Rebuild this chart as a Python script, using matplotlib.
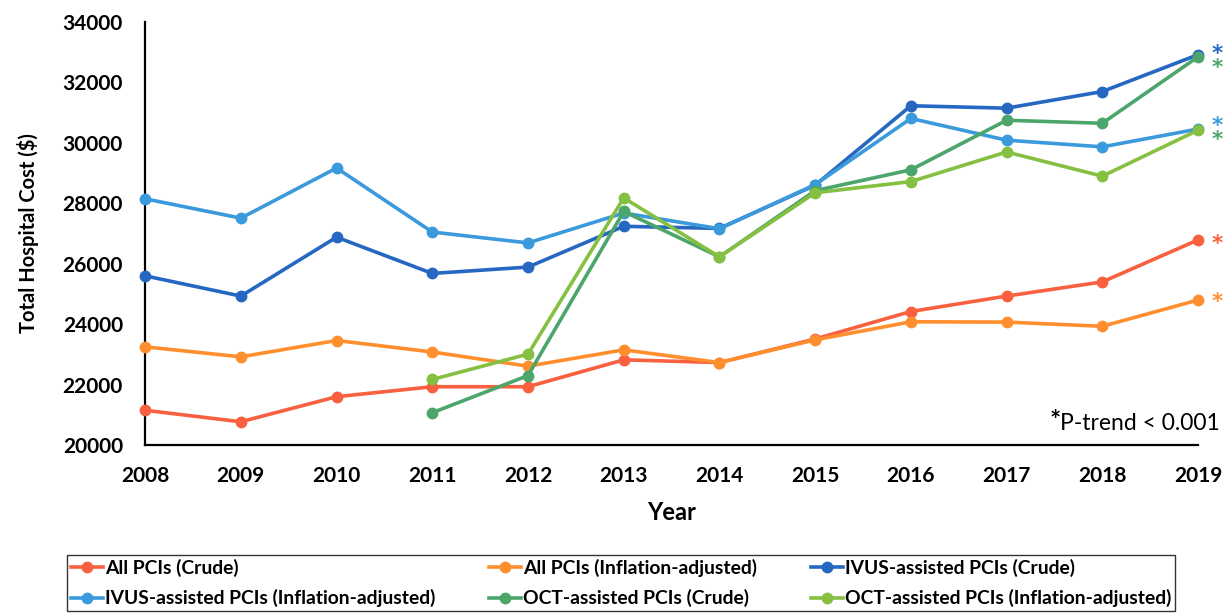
import matplotlib
matplotlib.use('Agg')
from matplotlib import pyplot as plt

plt.rcParams['font.family'] = ['Lato', 'DejaVu Sans']

years = list(range(2008, 2020))
oct_years = list(range(2011, 2020))

all_crude = [21150, 20770, 21600, 21930, 21930, 22820, 22730, 23510, 24420, 24930, 25400, 26790]
all_infl = [23250, 22920, 23460, 23080, 22610, 23150, 22730, 23480, 24080, 24070, 23930, 24800]
ivus_crude = [25600, 24930, 26880, 25680, 25890, 27240, 27170, 28600, 31230, 31150, 31700, 32920]
ivus_infl = [28150, 27510, 29170, 27050, 26690, 27680, 27160, 28620, 30810, 30090, 29870, 30460]
oct_crude = [21070, 22300, 27730, 26230, 28420, 29110, 30750, 30650, 32850]
oct_infl = [22170, 23010, 28180, 26230, 28350, 28720, 29700, 28900, 30420]

labels = ['All PCIs (Crude)', 'All PCIs (Inflation-adjusted)', 'IVUS-assisted PCIs (Crude)',
          'IVUS-assisted PCIs (Inflation-adjusted)', 'OCT-assisted PCIs (Crude)',
          'OCT-assisted PCIs (Inflation-adjusted)']
colors = ['#F8603F', '#FF8F2E', '#2667C2', '#3A9ADB', '#4CA56A', '#86C043']
star_colors = ['#F8603F', '#FF8F2E', '#2667C2', '#3A9ADB', '#4CA56A', '#4CA56A']
# vertical nudge (points) of the "*" next to each line's last point
star_dy = [2, 3.6, 5.8, 7.2, -2.9, -1.5]

fig = plt.figure(figsize=(12.3, 6.13), dpi=100)
ax = fig.add_axes([0.118, 0.274, 0.856, 0.690])

series = [(years, all_crude), (years, all_infl), (years, ivus_crude),
          (years, ivus_infl), (oct_years, oct_crude), (oct_years, oct_infl)]
handles = []
for (xs, ys), lab, c, sc, dy in zip(series, labels, colors, star_colors, star_dy):
    h, = ax.plot(xs, ys, '-o', color=c, lw=2.6, ms=7.5, label=lab, clip_on=False, zorder=3)
    handles.append(h)
    ax.annotate('*', xy=(xs[-1], ys[-1]), xytext=(14, dy - 9.5), textcoords='offset points',
                color=sc, fontsize=15.5, fontweight='bold', family='DejaVu Sans',
                va='baseline', ha='center', annotation_clip=False)

ax.set_xlim(2008, 2019)
ax.set_ylim(20000, 34000)
ax.set_xticks(years)
ax.set_yticks(range(20000, 34001, 2000))
for t in ax.get_xticklabels() + ax.get_yticklabels():
    t.set_fontweight('bold')
    t.set_fontsize(15)
ax.tick_params(axis='x', length=0, pad=15)
ax.tick_params(axis='y', length=0, pad=16)
ax.spines['top'].set_visible(False)
ax.spines['right'].set_visible(False)
ax.spines['left'].set_linewidth(1.6)
ax.spines['bottom'].set_linewidth(1.6)
ax.set_xlabel('Year', fontsize=17, fontweight='bold', labelpad=11)
ax.set_ylabel('Total Hospital Cost ($)', fontsize=14.5, fontweight='bold', labelpad=17)

pt = ax.text(1.021, 0.035, 'P-trend < 0.001', transform=ax.transAxes, ha='right',
             va='baseline', fontsize=16.5, color='black')
ax.annotate('*', xy=(0, 0.05), xycoords=pt, ha='right', va='bottom', fontsize=19,
            fontweight='bold', color='black')

order = [0, 3, 1, 4, 2, 5]
leg = fig.legend([handles[i] for i in order], [labels[i] for i in order], ncol=3,
                 loc='lower left', bbox_to_anchor=(0.0545, 0.003, 0.901, 0.104), mode='expand',
                 frameon=True, fancybox=False, edgecolor='black', borderaxespad=0,
                 prop={'weight': 'bold', 'size': 13.9}, handlelength=1.65, handletextpad=0.1,
                 columnspacing=0.2, labelspacing=0.62, borderpad=0.2)
leg.get_frame().set_linewidth(1.0)

fig.savefig('out.png', dpi=100)
